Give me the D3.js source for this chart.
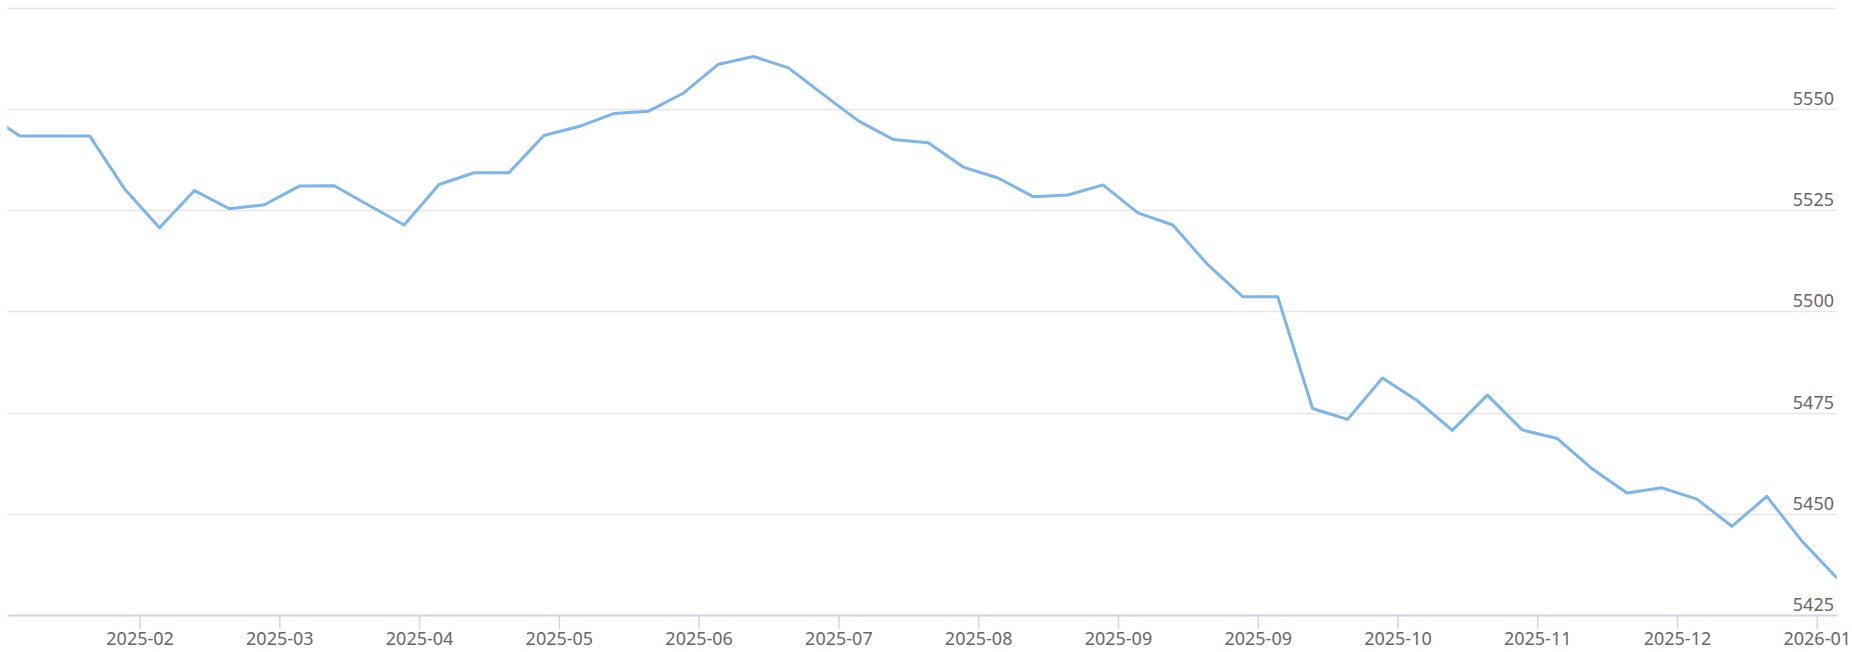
<!DOCTYPE html>
<html>
<head>
<meta charset="utf-8">
<script src="https://cdn.jsdelivr.net/npm/d3@7/dist/d3.min.js"></script>
<style>
  html, body { margin: 0; padding: 0; background: #ffffff; }
  svg { display: block; }
</style>
</head>
<body>
<svg id="chart" width="1852" height="652"></svg>
<script>
// ---- data (weekly, Fridays) ----
const weekStart = [2025, 0, 17];           // first data date (Friday)
const values = [
  5549.0, 5543.3, 5543.3, 5543.3, 5530.2, 5520.6, 5529.8, 5525.3, 5526.3, 5530.9,
  5531.0, 5526.1, 5521.3, 5531.3, 5534.2, 5534.2, 5543.4, 5545.6, 5548.8, 5549.4,
  5553.9, 5561.0, 5562.9, 5560.1, 5553.5, 5547.0, 5542.4, 5541.6, 5535.6, 5532.9,
  5528.3, 5528.7, 5531.2, 5524.3, 5521.3, 5511.5, 5503.6, 5503.6, 5476.0, 5473.3,
  5483.5, 5477.9, 5470.6, 5479.3, 5470.7, 5468.6, 5461.1, 5455.1, 5456.4, 5453.6,
  5446.9, 5454.3, 5443.3, 5434.2
];
const yTickValues = [5425, 5450, 5475, 5500, 5525, 5550, 5575];
const yLabelValues = [5425, 5450, 5475, 5500, 5525, 5550];
const xTickStart = [2025, 1, 17];          // every 4 weeks from here
const xTickStepDays = 28;
const xTickFormat = "%Y-%m";

const dates = values.map((v, i) => new Date(weekStart[0], weekStart[1], weekStart[2] + 7 * i));
const data = dates.map((d, i) => ({ date: d, value: values[i] }));

// ---- layout ----
const svg = d3.select("#chart");
const plotLeft = 7.3, plotRight = 1836.7, plotTop = 7.5, plotBottom = 615;
const labelFont = "'Noto Sans', 'Open Sans', sans-serif";

const x = d3.scaleTime()
  .domain([new Date(2025, 0, 21, 12), new Date(2026, 0, 23)])
  .range([plotLeft, plotRight]);
const y = d3.scaleLinear().domain([5425, 5575]).range([plotBottom, plotTop]);

svg.append("rect").attr("width", 1852).attr("height", 652).attr("fill", "#ffffff");

// grid lines
svg.append("g").selectAll("line")
  .data(yTickValues.filter(v => v !== 5425))
  .join("line")
  .attr("x1", plotLeft).attr("x2", plotRight)
  .attr("y1", d => Math.round(y(d)) + 0.5).attr("y2", d => Math.round(y(d)) + 0.5)
  .attr("stroke", "#e6e6e6").attr("stroke-width", 1.5);

// y labels (right side, above gridline)
svg.append("g").selectAll("text")
  .data(yLabelValues)
  .join("text")
  .attr("x", 1834)
  .attr("y", d => y(d) - 4)
  .attr("text-anchor", "end")
  .attr("fill", "#666666")
  .style("font-family", labelFont)
  .style("font-size", "18px")
  .text(d => d);

// x axis
const tickDates = d3.timeDay.range(
  new Date(xTickStart[0], xTickStart[1], xTickStart[2]),
  x.domain()[1], xTickStepDays);

const xAxis = d3.axisBottom(x)
  .tickValues(tickDates)
  .tickFormat(d3.timeFormat(xTickFormat))
  .tickSize(14)
  .tickSizeOuter(0)
  .tickPadding(3);

const gx = svg.append("g")
  .attr("transform", `translate(0,${plotBottom})`)
  .call(xAxis);
gx.select(".domain").attr("stroke", "#ccd6eb").attr("stroke-width", 2);
gx.selectAll(".tick line").attr("stroke", "#ccd6eb").attr("stroke-width", 1.5);
gx.selectAll(".tick text")
  .attr("fill", "#666666")
  .style("font-family", labelFont)
  .style("font-size", "18px");

// clip + line
svg.append("clipPath").attr("id", "plotclip")
  .append("rect").attr("x", plotLeft).attr("y", 0)
  .attr("width", plotRight - plotLeft).attr("height", plotBottom);

const line = d3.line().x(d => x(d.date)).y(d => y(d.value));
svg.append("path")
  .datum(data)
  .attr("clip-path", "url(#plotclip)")
  .attr("fill", "none")
  .attr("stroke", "#7cb5ec")
  .attr("stroke-width", 3)
  .attr("stroke-linejoin", "round")
  .attr("stroke-linecap", "round")
  .attr("d", line);
</script>
</body>
</html>
